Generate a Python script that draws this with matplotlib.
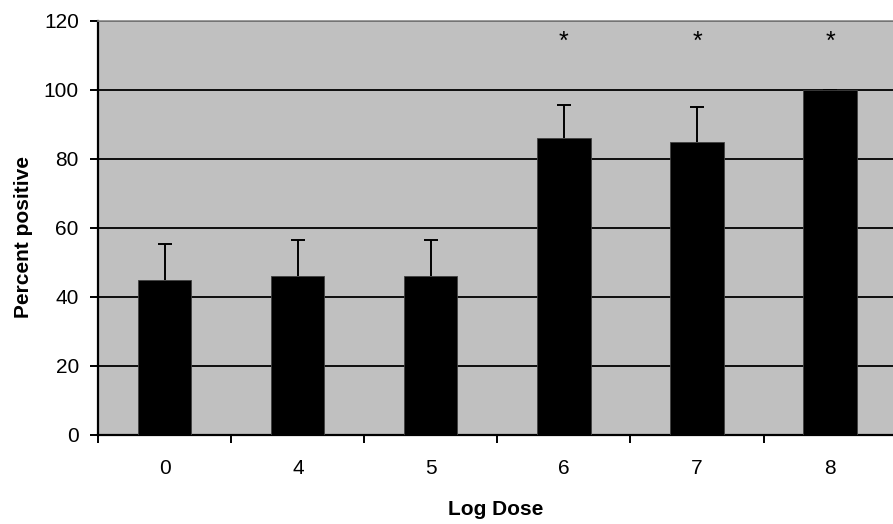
import numpy as np
import matplotlib.pyplot as plt

plt.rcParams["font.family"] = ["Liberation Sans", "DejaVu Sans"]

# data
doses = ["0", "4", "5", "6", "7", "8"]
percent_positive = [45, 46, 46, 86, 85, 100]
upper_error = [10.3, 10.5, 10.5, 9.6, 10, 0]
significant = [False, False, False, True, True, True]
star_level = 114

x = np.arange(len(doses))

fig = plt.figure(figsize=(8.93, 5.24), dpi=100)
ax = fig.add_axes([0.110, 0.170, 0.894, 0.790])
ax.set_facecolor("#c0c0c0")

ax.set_axisbelow(True)
ax.yaxis.grid(True, color="black", linewidth=1.3)

ax.bar(x, percent_positive, width=0.4, color="black", edgecolor="#404040",
       linewidth=0.6, zorder=3)
err = np.array([np.zeros(len(doses)), upper_error])
_, caps, _ = ax.errorbar(x, percent_positive, yerr=err, fmt="none", ecolor="black",
                         elinewidth=1.4, capsize=5, capthick=1.4, zorder=2)
caps[0].set_visible(False)  # only the upper half of the error bar is drawn

for xi, sig in zip(x, significant):
    if sig:
        ax.text(xi, star_level, "*", ha="center", va="center", fontsize=18)

ax.set_ylim(0, 120)
ax.set_yticks(np.arange(0, 121, 20))
ax.set_xlim(-0.5, 5.5)
ax.set_xticks(x)
ax.set_xticklabels(doses)
ax.set_xticks(np.arange(-0.5, 5.6, 1), minor=True)
ax.tick_params(axis="x", which="major", length=0, pad=17, labelsize=15)
ax.tick_params(axis="x", which="minor", length=6, width=1.4, direction="out")
ax.tick_params(axis="y", length=6, width=1.4, direction="out", pad=8, labelsize=15)

for side in ["left", "bottom"]:
    ax.spines[side].set_color("black")
    ax.spines[side].set_linewidth(1.6)
ax.spines["right"].set_visible(False)
ax.spines["top"].set_color("#888888")
ax.spines["top"].set_linewidth(1.2)

ax.set_xlabel("Log Dose", fontsize=15, fontweight="bold")
ax.xaxis.set_label_coords(0.498, -0.157)
ax.set_ylabel("Percent positive", fontsize=15, fontweight="bold")
ax.yaxis.set_label_coords(-0.082, 0.478)

fig.savefig("out.png", dpi=100)
